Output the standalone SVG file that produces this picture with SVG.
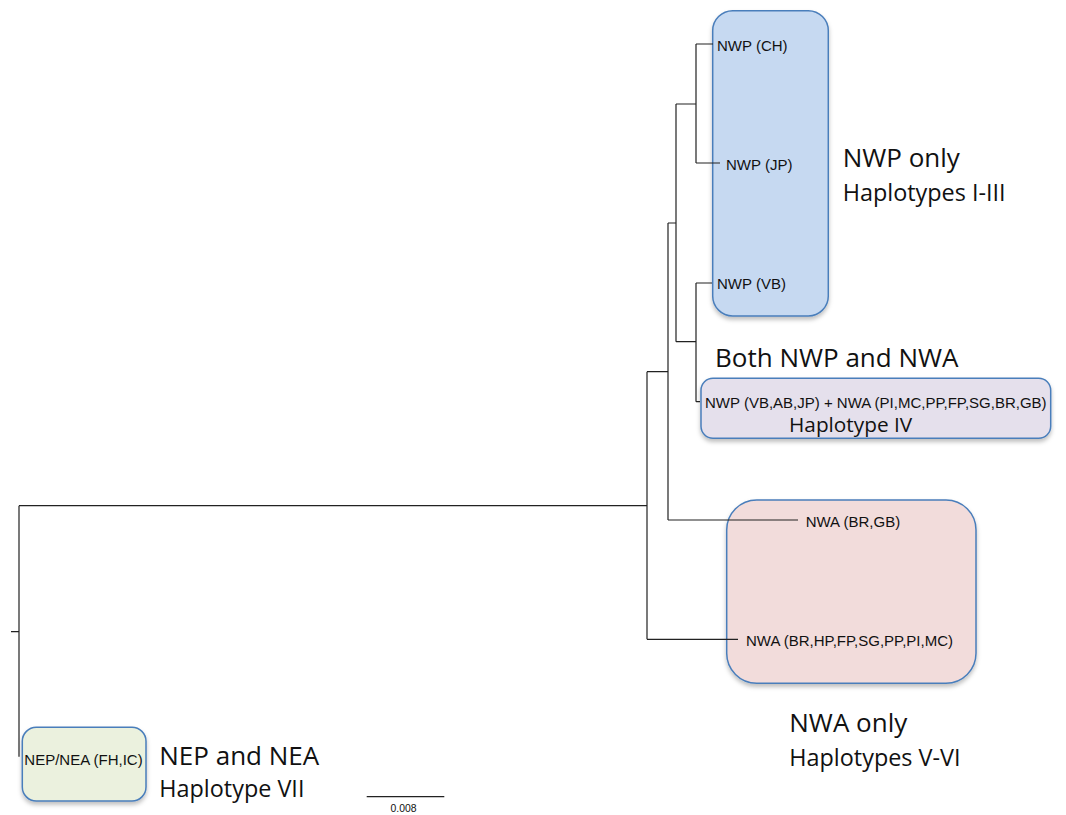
<svg xmlns="http://www.w3.org/2000/svg" width="1066" height="815" viewBox="0 0 1066 815">
<defs>
<filter id="sh" x="-10%" y="-10%" width="120%" height="130%">
<feDropShadow dx="0" dy="3" stdDeviation="2" flood-color="#000" flood-opacity="0.25"/>
</filter>
<style>
.box{stroke:#4a7ebb;stroke-width:1.5;filter:url(#sh)}
.br{fill:none;stroke:#222;stroke-width:1.2}
.tip{font-family:"Liberation Sans",Arial,sans-serif;font-size:15px;fill:#111}
.big{font-family:"Open Sans","Noto Sans",sans-serif;font-size:26px;fill:#111}
.sub{font-family:"Open Sans","Noto Sans",sans-serif;font-size:23.4px;fill:#111}
.sc{font-family:"Liberation Sans",Arial,sans-serif;font-size:10.4px;fill:#111}
</style>
</defs>
<rect width="1066" height="815" fill="#fff"/>
<g id="box-nwp">
<rect class="box" x="712.7" y="10.7" width="115.6" height="305.3" rx="20" fill="#c6d9f1"/>
</g>
<g id="box-both">
<rect class="box" x="701" y="378.3" width="349.7" height="60" rx="12" fill="#e5e0ec"/>
</g>
<g id="box-nwa">
<rect class="box" x="726.7" y="500" width="249.3" height="183.3" rx="30" fill="#f2dcdb"/>
</g>
<g id="box-nep">
<rect class="box" x="22.3" y="727.3" width="123.7" height="73.7" rx="14" fill="#ebf1de"/>
</g>
<g id="connectors">
<path class="br" d="M11,631.7 H19 M19,505.7 V756.7 M19,505.7 H647"/>
<path class="br" d="M647,371.7 V639.3 M647,371.7 H668 M647,639.3 H738"/>
<path class="br" d="M668,223 V520 M668,223 H676 M668,520 H798"/>
<path class="br" d="M676,104 V341.7 M676,104 H696 M676,341.7 H696"/>
<path class="br" d="M696,44 V163 M696,44 H713 M696,163 H720"/>
<path class="br" d="M696,283 V401.7 M696,283 H712 M696,401.7 H700"/>
<path class="br" d="M366.7,796.7 H444.3"/>
</g>
<g id="tip-ch"><text class="tip" x="717" y="50.5">NWP (CH)</text></g>
<g id="tip-jp"><text class="tip" x="726" y="169.5">NWP (JP)</text></g>
<g id="tip-vb"><text class="tip" x="717" y="289">NWP (VB)</text></g>
<g id="tip-iv"><text class="tip" x="705" y="407.7">NWP (VB,AB,JP) + NWA (PI,MC,PP,FP,SG,BR,GB)</text></g>
<g id="tip-brgb"><text class="tip" x="805.7" y="526.5">NWA (BR,GB)</text></g>
<g id="tip-brhp"><text class="tip" x="746" y="645.5">NWA (BR,HP,FP,SG,PP,PI,MC)</text></g>
<g id="tip-nep"><text class="tip" x="24.3" y="764.5">NEP/NEA (FH,IC)</text></g>
<g id="label-nwp">
<text class="big" x="842.7" y="167">NWP only</text>
<text class="sub" x="842.7" y="201">Haplotypes I-III</text>
</g>
<g id="label-both">
<text class="big" x="715" y="367">Both NWP and NWA</text>
<text class="sub" x="789" y="431.5" style="font-size:20.8px">Haplotype IV</text>
</g>
<g id="label-nwa">
<text class="big" x="789.3" y="731.7">NWA only</text>
<text class="sub" x="789.3" y="766">Haplotypes V-VI</text>
</g>
<g id="label-nep">
<text class="big" x="159.3" y="765">NEP and NEA</text>
<text class="sub" x="159.3" y="797.3">Haplotype VII</text>
</g>
<g id="scale">
<text class="sc" x="403.5" y="812" text-anchor="middle">0.008</text>
</g>
</svg>
